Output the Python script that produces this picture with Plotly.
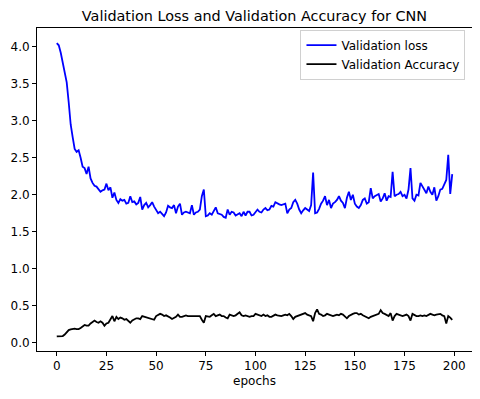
import plotly.graph_objects as go

# validation loss per epoch
val_loss = [
    4.05, 4.02, 3.92, 3.78, 3.62, 3.52, 3.25, 2.95, 2.78, 2.62,
    2.58, 2.60, 2.50, 2.38, 2.36, 2.28, 2.38, 2.22, 2.16, 2.12,
    2.11, 2.08, 2.04, 2.06, 2.07, 2.15, 2.06, 2.10, 1.96, 2.03,
    1.93, 1.89, 1.94, 1.92, 1.93, 1.88, 1.89, 1.98, 1.90, 1.91,
    1.87, 1.89, 1.97, 1.80, 1.86, 1.89, 1.83, 1.86, 1.90, 1.84,
    1.80, 1.75, 1.77, 1.74, 1.71, 1.76, 1.85, 1.83, 1.82, 1.86,
    1.75, 1.84, 1.88, 1.73, 1.76, 1.77, 1.76, 1.75, 1.86, 1.73,
    1.76, 1.77, 1.80, 1.98, 2.07, 1.71, 1.72, 1.75, 1.73, 1.78,
    1.83, 1.75, 1.74, 1.73, 1.70, 1.69, 1.80, 1.73, 1.77, 1.76,
    1.72, 1.74, 1.75, 1.71, 1.77, 1.72, 1.77, 1.77, 1.72, 1.73,
    1.76, 1.80, 1.77, 1.76, 1.80, 1.82, 1.79, 1.80, 1.85, 1.84,
    1.90, 1.88, 1.87, 1.86, 1.87, 1.88, 1.75, 1.80, 1.82, 1.90,
    1.93, 1.88, 1.80, 1.75, 1.79, 1.82, 1.80, 1.78, 1.86, 2.30,
    1.75, 1.76, 1.81, 1.88, 1.92, 1.98, 1.86, 1.93, 1.82, 1.88,
    1.90, 1.93, 1.98, 1.92, 1.89, 1.82, 1.96, 2.04, 1.93, 2.00,
    1.88, 1.84, 1.82, 1.86, 1.93, 1.95, 1.88, 1.90, 2.09, 1.95,
    1.98, 2.00, 2.01, 1.91, 1.95, 2.02, 1.92, 1.98, 1.97, 2.31,
    1.98, 2.00, 2.01, 2.04, 1.98, 2.00, 1.95, 2.07, 2.36, 1.95,
    1.92, 2.00, 1.99, 2.16, 2.11, 2.05, 2.02, 2.11, 2.04, 2.00,
    2.10, 1.92, 1.98, 2.07, 2.08, 2.14, 2.20, 2.54, 2.01, 2.28,
]

# validation accuracy per epoch
val_acc = [
    0.085, 0.085, 0.085, 0.09, 0.11, 0.14, 0.17, 0.18, 0.19, 0.19,
    0.185, 0.185, 0.20, 0.22, 0.24, 0.23, 0.23, 0.26, 0.28, 0.30,
    0.28, 0.27, 0.29, 0.27, 0.23, 0.26, 0.27, 0.31, 0.36, 0.29,
    0.35, 0.32, 0.34, 0.33, 0.31, 0.32, 0.30, 0.27, 0.30, 0.32,
    0.33, 0.33, 0.32, 0.36, 0.35, 0.35, 0.34, 0.33, 0.32, 0.31,
    0.36, 0.37, 0.39, 0.38, 0.36, 0.37, 0.36, 0.34, 0.32, 0.33,
    0.35, 0.38, 0.35, 0.35, 0.36, 0.37, 0.36, 0.36, 0.35, 0.35,
    0.36, 0.36, 0.36, 0.31, 0.27, 0.36, 0.35, 0.35, 0.37, 0.39,
    0.36, 0.37, 0.38, 0.36, 0.36, 0.34, 0.33, 0.38, 0.37, 0.36,
    0.37, 0.39, 0.41, 0.37, 0.36, 0.37, 0.36, 0.35, 0.36, 0.36,
    0.39, 0.38, 0.37, 0.36, 0.38, 0.36, 0.37, 0.35, 0.35, 0.37,
    0.38, 0.37, 0.36, 0.36, 0.37, 0.38, 0.37, 0.39, 0.36, 0.32,
    0.35, 0.36, 0.37, 0.38, 0.39, 0.40, 0.38, 0.37, 0.36, 0.29,
    0.40, 0.45, 0.39, 0.38, 0.36, 0.37, 0.39, 0.38, 0.37, 0.36,
    0.37, 0.38, 0.37, 0.39, 0.38, 0.36, 0.33, 0.36, 0.38, 0.39,
    0.40, 0.40, 0.38, 0.39, 0.37, 0.36, 0.35, 0.33, 0.35, 0.36,
    0.36, 0.38, 0.39, 0.44, 0.40, 0.39, 0.37, 0.36, 0.40, 0.30,
    0.36, 0.39, 0.38, 0.37, 0.36, 0.37, 0.38, 0.36, 0.30, 0.39,
    0.37, 0.36, 0.36, 0.37, 0.36, 0.37, 0.36, 0.38, 0.39, 0.38,
    0.37, 0.38, 0.38, 0.39, 0.37, 0.36, 0.26, 0.36, 0.34, 0.31,
]

epochs = list(range(len(val_loss)))
x_ticks = [0, 25, 50, 75, 100, 125, 150, 175, 200]
y_ticks = [0.0, 0.5, 1.0, 1.5, 2.0, 2.5, 3.0, 3.5, 4.0]

FONT = "DejaVu Sans"

fig = go.Figure()
fig.add_trace(go.Scatter(x=epochs, y=val_loss, mode="lines", name="Validation loss",
                         line=dict(color="blue", width=1.8)))
fig.add_trace(go.Scatter(x=epochs, y=val_acc, mode="lines", name="Validation Accuracy",
                         line=dict(color="black", width=1.8)))

axis_style = dict(
    showline=True, linecolor="black", linewidth=1, mirror=True,
    ticks="outside", ticklen=4, tickwidth=1, tickcolor="black",
    showgrid=False, zeroline=False, automargin=False,
    tickfont=dict(family=FONT, size=12, color="black"),
)

fig.update_xaxes(range=[-9.95, 208.95], tickvals=x_ticks,
                 title=dict(text="epochs", font=dict(family=FONT, size=12, color="black"), standoff=4),
                 **axis_style)
fig.update_yaxes(range=[-0.112, 4.254], tickvals=y_ticks, tickformat=".1f", **axis_style)

# the page body adds an 8px offset, so the figure is 8px smaller
fig.update_layout(
    width=472, height=391,
    margin=dict(l=29, r=8, t=20, b=48),
    paper_bgcolor="white", plot_bgcolor="white",
    title=dict(text="Validation Loss and Validation Accuracy for CNN",
               font=dict(family=FONT, size=14.4, color="black"),
               x=0.5, xref="paper", xanchor="center",
               y=1 - 2.5 / 391, yref="container", yanchor="top", pad=dict(t=0, b=0)),
    legend=dict(x=0.985, y=0.995, xanchor="right", yanchor="top",
                bgcolor="rgba(255,255,255,0.8)", bordercolor="#d0d0d0", borderwidth=1,
                font=dict(family=FONT, size=12, color="black"),
                itemwidth=30, tracegroupgap=0),
    showlegend=True,
)

fig.write_html("out.html")
